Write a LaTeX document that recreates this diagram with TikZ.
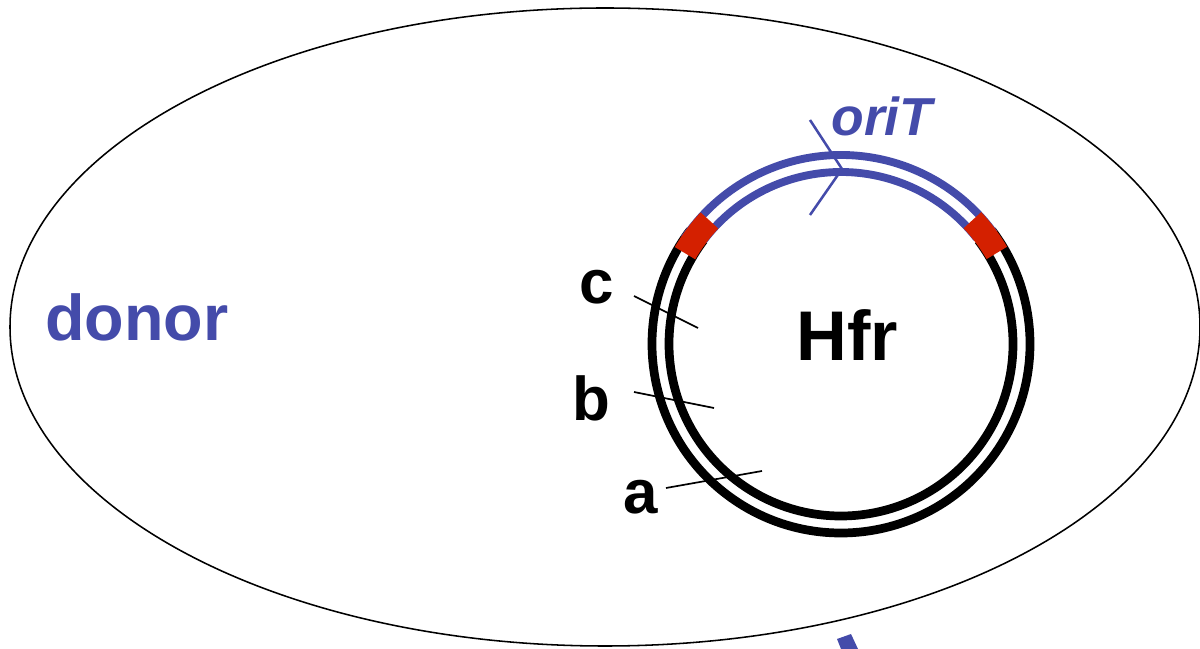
\documentclass[tikz,border=0pt]{standalone}
\usepackage{fontspec}
\setmainfont{Liberation Sans}
\usepackage{xcolor}
\definecolor{blue1}{HTML}{444BAA}
\definecolor{red1}{HTML}{D42000}
\usetikzlibrary{positioning, calc}

\begin{document}
\begin{tikzpicture}[
  x = 0.025cm, y = 0.025cm,
  gene/.style     = {font=\fontsize{44}{44}\selectfont\bfseries, inner sep=0pt},
  cellname/.style = {text=blue1, font=\fontsize{46}{46}\selectfont\bfseries, inner sep=0pt},
  strand/.style   = {draw=black, line width=6.2pt},
  plasmid/.style  = {draw=blue1, line width=5.6pt},
  junction/.style = {draw=red1, line width=17pt},
  genetick/.style = {draw=black, line width=1.2pt}
]
\useasboundingbox (0,0) rectangle (1200,649);
\coordinate (ctr) at (841,305);

% Donor cell
\draw[line width=1.1pt] (605,322) ellipse [x radius=595, y radius=319];
\node[cellname] (donor) at (137,332) {donor};

% Chromosome, two strands
\draw[strand] ($(ctr)+(143:189)$) arc[start angle=143, end angle=397, radius=189];
\draw[strand] ($(ctr)+(143:172)$) arc[start angle=143, end angle=397, radius=172];

% Integrated F, two strands
\draw[plasmid] ($(ctr)+(36:189)$) arc[start angle=36, end angle=146, radius=189];
\draw[plasmid] ($(ctr)+(38:172)$) arc[start angle=38, end angle=143, radius=172];

% Junctions
\draw[junction] ($(ctr)+(136.8:180.5)$) arc[start angle=136.8, end angle=149.8, radius=180.5];
\draw[junction] ($(ctr)+(30.3:180.5)$) arc[start angle=30.3, end angle=43.3, radius=180.5];

% oriT
\coordinate (ot1) at (810,529);
\coordinate (ot2) at (842,480);
\coordinate (ot3) at (810,434);
\draw[blue1, line width=1.8pt] (ot1) -- (ot2) -- (ot3);
\node[text=blue1, font=\fontsize{38}{38}\selectfont\bfseries\itshape,
      inner sep=0pt] (orit) at (882,533) {oriT};

\node[font=\fontsize{50}{50}\selectfont\bfseries, inner sep=0pt] (hfr) at (847,314) {Hfr};

% Genes
\node[gene] (gc) at (597,362) {c};
\node[gene] (gb) at (591,251) {b};
\node[gene] (ga) at (641,152) {a};
\coordinate (c1) at (634,353);  \coordinate (c2) at (698,321);
\coordinate (b1) at (634,257);  \coordinate (b2) at (714,241);
\coordinate (a1) at (666,161);  \coordinate (a2) at (762,178);
\draw[genetick] (c1) -- (c2);
\draw[genetick] (b1) -- (b2);
\draw[genetick] (a1) -- (a2);

% pilus start
\fill[blue1] (837,10) -- (851,15) -- (858,0) -- (841,0) -- cycle;

\end{tikzpicture}
\end{document}
